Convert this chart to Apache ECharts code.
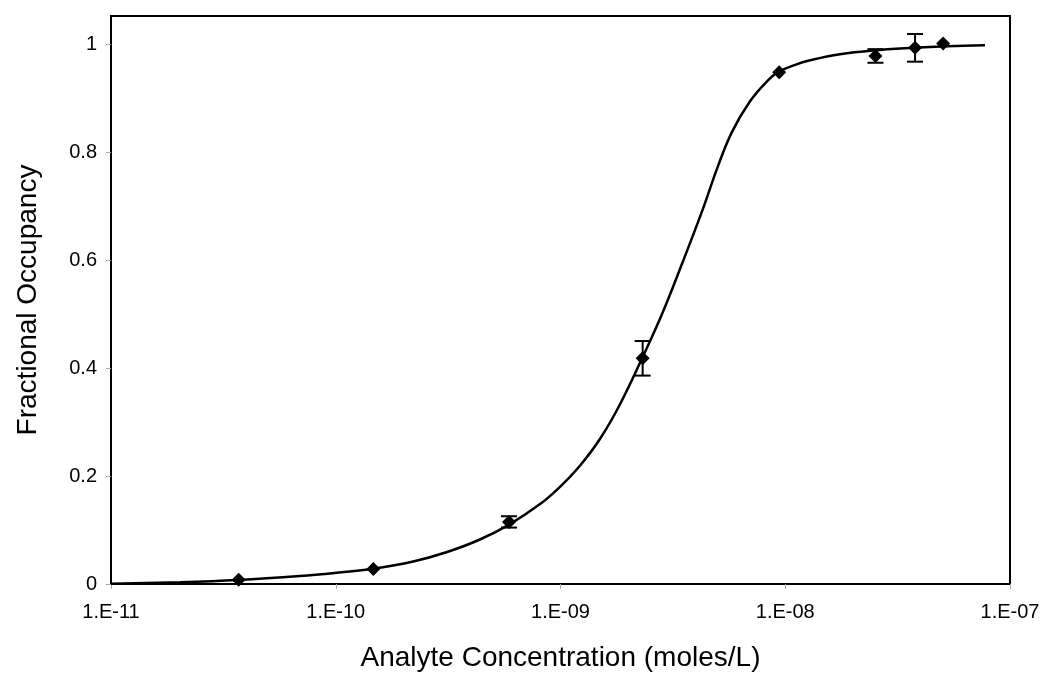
<!DOCTYPE html>
<html>
<head>
<meta charset="utf-8">
<script src="https://cdn.jsdelivr.net/npm/echarts@6/dist/echarts.min.js"></script>
<style>
html,body{margin:0;padding:0;background:#fff;}
#chart{width:1050px;height:695px;}
</style>
</head>
<body>
<div id="chart"></div>
<script>
// Measured data points (concentration in moles/L, fractional occupancy, error)
const pointsX = [3.7e-11, 1.47e-10, 5.9e-10, 2.32e-9, 9.4e-9, 2.52e-8, 3.78e-8, 5.04e-8];
const pointsY = [0.008, 0.028, 0.115, 0.418, 0.948, 0.978, 0.993, 1.001];
const pointsErr = [0, 0, 0.0105, 0.032, 0, 0.0126, 0.0256, 0];

// Fitted curve
const curveX = [1.00e-11, 2.03e-11, 3.67e-11, 6.93e-11, 1.01e-10, 1.47e-10, 2.21e-10, 3.13e-10, 4.38e-10, 5.96e-10,
  8.11e-10, 9.95e-10, 1.22e-9, 1.50e-9, 1.84e-9, 2.33e-9, 2.83e-9, 3.48e-9, 4.27e-9, 5.02e-9,
  5.79e-9, 6.97e-9, 8.30e-9, 9.29e-9, 1.13e-8, 1.29e-8, 1.75e-8, 2.45e-8, 3.70e-8, 5.25e-8,
  7.74e-8];
const curveY = [0.0006, 0.0033, 0.0074, 0.0148, 0.0209, 0.0283, 0.0417, 0.0593, 0.0824, 0.111,
  0.148, 0.180, 0.219, 0.269, 0.333, 0.422, 0.500, 0.594, 0.691, 0.774,
  0.837, 0.894, 0.931, 0.948, 0.963, 0.970, 0.981, 0.988, 0.993, 0.996,
  0.998];

const yTicks = [0, 0.2, 0.4, 0.6, 0.8, 1];

const xTitle = 'Analyte Concentration (moles/L)';
const yTitle = 'Fractional Occupancy';

const FONT = '"Liberation Sans", Arial, sans-serif';

function fmtExp(v) {
  const e = Math.round(Math.log10(v));
  return '1.E' + (e < 0 ? '-' : '+') + String(Math.abs(e)).padStart(2, '0');
}

const chart = echarts.init(document.getElementById('chart'), null, {renderer: 'canvas'});
chart.setOption({
  animation: false,
  backgroundColor: '#fff',
  grid: {left: 111, right: 40, top: 16, bottom: 111, show: true, borderColor: '#000', borderWidth: 2, containLabel: false},
  xAxis: {
    type: 'log', logBase: 10, min: 1e-11, max: 1e-7,
    name: xTitle, nameLocation: 'middle', nameGap: 60,
    nameTextStyle: {fontFamily: FONT, fontSize: 28, color: '#000'},
    axisLine: {show: true, onZero: false, lineStyle: {color: '#000', width: 2}},
    axisTick: {show: true, length: 5, lineStyle: {color: '#aaa', width: 1}},
    minorTick: {show: false},
    axisLabel: {fontFamily: FONT, fontSize: 20, color: '#000', margin: 18, formatter: fmtExp},
    splitLine: {show: false}
  },
  yAxis: {
    type: 'value', min: 0, max: 1.052,
    name: yTitle, nameLocation: 'middle', nameGap: 69,
    nameTextStyle: {fontFamily: FONT, fontSize: 28, color: '#000'},
    axisLine: {show: true, lineStyle: {color: '#000', width: 2}},
    axisTick: {show: true, length: 5, customValues: yTicks, lineStyle: {color: '#aaa', width: 1}},
    axisLabel: {fontFamily: FONT, fontSize: 20, color: '#000', margin: 14, customValues: yTicks,
      formatter: v => String(Math.round(v * 10) / 10)},
    splitLine: {show: false}
  },
  series: [
    {
      type: 'line',
      data: curveX.map((x, i) => [x, curveY[i]]),
      showSymbol: false,
      smooth: 0.4,
      lineStyle: {color: '#000', width: 2.5},
      z: 2
    },
    {
      type: 'custom',
      data: pointsX.map((x, i) => [x, pointsY[i], pointsErr[i]]),
      renderItem: function (params, api) {
        const x = api.value(0), y = api.value(1), e = api.value(2);
        if (!e) return null;
        const top = api.coord([x, y + e]);
        const bot = api.coord([x, y - e]);
        const hw = 8;
        const st = {stroke: '#000', lineWidth: 2};
        return {
          type: 'group',
          children: [
            {type: 'line', shape: {x1: top[0], y1: top[1], x2: bot[0], y2: bot[1]}, style: st},
            {type: 'line', shape: {x1: top[0] - hw, y1: top[1], x2: top[0] + hw, y2: top[1]}, style: st},
            {type: 'line', shape: {x1: bot[0] - hw, y1: bot[1], x2: bot[0] + hw, y2: bot[1]}, style: st}
          ]
        };
      },
      z: 3
    },
    {
      type: 'scatter',
      data: pointsX.map((x, i) => [x, pointsY[i]]),
      symbol: 'diamond',
      symbolSize: [14, 14],
      itemStyle: {color: '#000', opacity: 1},
      z: 4
    }
  ]
});
</script>
</body>
</html>
